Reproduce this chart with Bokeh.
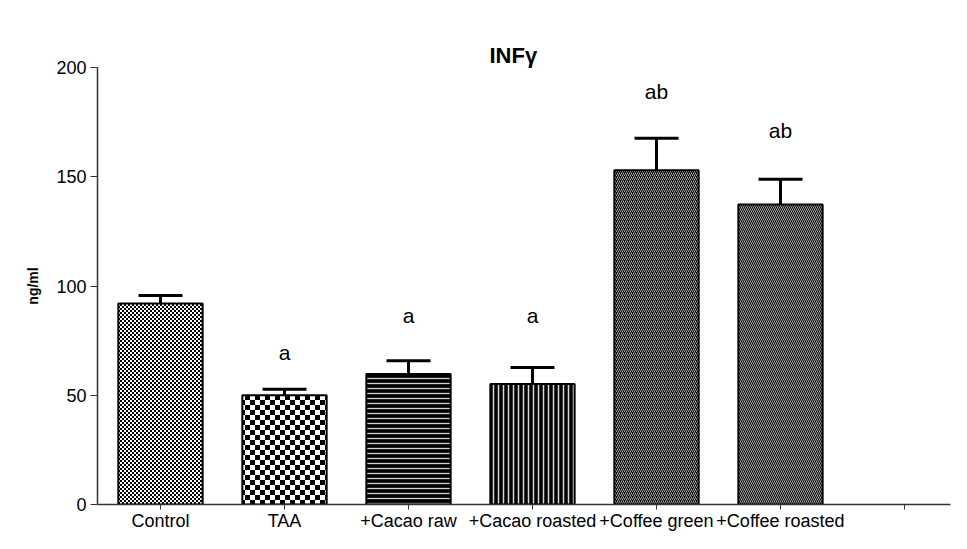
import base64, struct, zlib
from bokeh.plotting import figure
from bokeh.models import (Range1d, FixedTicker, Whisker, TeeHead, ColumnDataSource,
                          ImageURLTexture, Title)
from bokeh.core.properties import value
from bokeh.embed import file_html
from bokeh.resources import INLINE

# ---- data ----
title_text = "INFγ"
categories = ["Control", "TAA", "+Cacao raw", "+Cacao roasted", "+Coffee green", "+Coffee roasted"]
tick_labels = categories + [""]          # the reference has an empty 7th slot
means = [92.0, 50.0, 59.7, 55.2, 153.0, 137.3]
errors = [3.6, 2.7, 6.1, 7.5, 14.6, 11.5]
sig_letters = ["", "a", "a", "a", "ab", "ab"]
letter_y = [0.0, 69.5, 86.7, 86.7, 189.0, 171.0]
y_ticks = [0, 50, 100, 150, 200]

# ---- styles ----
fills = ["white", "white", "black", "black", "black", "black"]
hatches = ["fine_checker", "coarse_checker", "horizontal_line", "vertical_line",
           "right_diagonal_line", "left_diagonal_line"]
hatch_colors = ["black", "black", "#d0d0d0", "#d8d8d8", "#a8a8a8", "#a8a8a8"]
hatch_scales = [4, 10, 5, 5, 4, 4]
hatch_weights = [1, 1, 1.3, 1.5, 1, 1]

FONT = "Liberation Sans"


def checker_png(cell):
    """Tiny 2x2-cell checkerboard tile as a PNG data URL."""
    n = cell * 2
    rows = b""
    for yy in range(n):
        row = bytes([0])
        for xx in range(n):
            dark = ((xx // cell) + (yy // cell)) % 2 == 0
            row += bytes([0 if dark else 255])
        rows += row

    def chunk(tag, data):
        c = tag + data
        return struct.pack(">I", len(data)) + c + struct.pack(">I", zlib.crc32(c) & 0xffffffff)

    png = b"\x89PNG\r\n\x1a\n"
    png += chunk(b"IHDR", struct.pack(">IIBBBBB", n, n, 8, 0, 0, 0, 0))
    png += chunk(b"IDAT", zlib.compress(rows))
    png += chunk(b"IEND", b"")
    return "data:image/png;base64," + base64.b64encode(png).decode()


textures = {
    "fine_checker": ImageURLTexture(url=checker_png(2)),
    "coarse_checker": ImageURLTexture(url=checker_png(5)),
}

xs = list(range(len(categories)))
src = ColumnDataSource(dict(
    x=xs, mean=means, upper=[m + e for m, e in zip(means, errors)],
    fill=fills, hatch=hatches, hcolor=hatch_colors, hscale=hatch_scales, hweight=hatch_weights,
))

p = figure(width=951, height=533,
           x_range=Range1d(-0.508, 6.371), y_range=Range1d(0, 200),
           output_backend="svg", toolbar_location=None,
           min_border_left=97, min_border_right=1, min_border_top=67, min_border_bottom=20)
p.outline_line_color = None
p.xgrid.visible = False
p.ygrid.visible = False

# real title (outer) with an invisible spacer title between it and the frame
p.title.text = title_text
p.title.text_font = FONT
p.title.text_font_size = "22px"
p.title.text_font_style = "bold"
p.title.text_color = "black"
p.title.align = "left"
p.title.offset = 392
p.title.standoff = 0
spacer = Title(text="I", text_font=FONT, text_font_size="26px", text_alpha=0, standoff=0)
p.add_layout(spacer, "above")

p.vbar(x="x", top="mean", bottom=0, width=0.68, source=src,
       fill_color="fill", line_color="black", line_width=2,
       hatch_pattern="hatch", hatch_color="hcolor", hatch_scale="hscale",
       hatch_weight="hweight", hatch_extra=textures)

whisk = Whisker(source=src, base="x", upper="upper", lower="mean",
                upper_head=TeeHead(size=44, line_width=3, line_color="black"),
                lower_head=None, line_width=3, line_color="black")
p.add_layout(whisk)

p.text(x=xs, y=letter_y, text=sig_letters, text_align="center", text_baseline="middle",
       text_font=value(FONT), text_font_size="21px", text_color="black")

# x axis
p.xaxis.ticker = FixedTicker(ticks=list(range(len(tick_labels))))
p.xaxis.major_label_overrides = {i: lab for i, lab in enumerate(tick_labels)}
p.xaxis.major_tick_out = 5
p.xaxis.major_tick_in = 0
p.xaxis.minor_tick_line_color = None
p.xaxis.major_label_text_font = FONT
p.xaxis.major_label_text_font_size = "18px"
p.xaxis.major_label_text_color = "black"
p.xaxis.major_label_standoff = 1
p.xaxis.axis_line_width = 1.5
p.xaxis.axis_line_color = "#333333"
p.xaxis.major_tick_line_color = "#333333"

# y axis
p.yaxis.ticker = FixedTicker(ticks=y_ticks)
p.yaxis.major_tick_out = 7
p.yaxis.major_tick_in = 0
p.yaxis.minor_tick_line_color = None
p.yaxis.major_label_text_font = FONT
p.yaxis.major_label_text_font_size = "18px"
p.yaxis.major_label_text_color = "black"
p.yaxis.major_label_standoff = 4
p.yaxis.axis_line_width = 1.5
p.yaxis.axis_line_color = "#333333"
p.yaxis.major_tick_line_color = "#333333"
p.yaxis.axis_label = "ng/ml"
p.yaxis.axis_label_text_font = FONT
p.yaxis.axis_label_text_font_size = "14px"
p.yaxis.axis_label_text_font_style = "bold"
p.yaxis.axis_label_text_color = "black"
p.yaxis.axis_label_standoff = 12

open("out.html", "w").write(file_html(p, INLINE))
